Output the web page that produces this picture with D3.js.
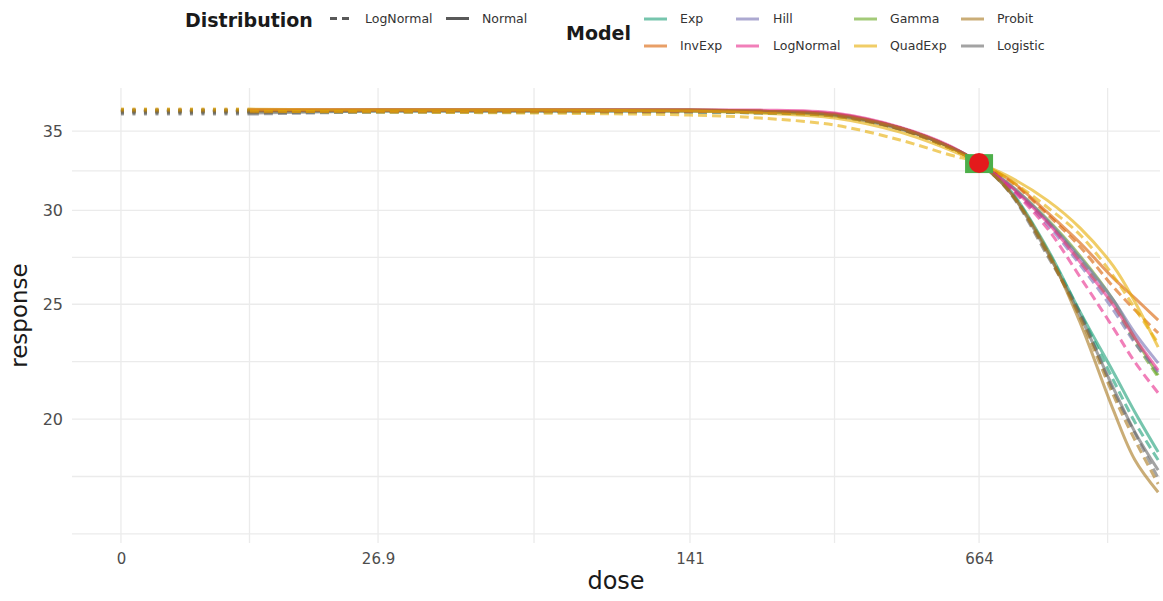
<!DOCTYPE html>
<html>
<head>
<meta charset="utf-8">
<script src="https://cdn.jsdelivr.net/npm/d3@7"></script>
<style>
  body { margin: 0; background: #ffffff; }
  text { font-family: "DejaVu Sans", sans-serif; }
</style>
</head>
<body>
<svg id="chart" width="1163" height="601"></svg>
<script>
// ---- data -------------------------------------------------------------
const doseTicks = [0, 26.9, 141, 664];
const doseTickLabels = ["0", "26.9", "141", "664"];
const responseTicks = [20, 25, 30, 35];

// doses at which every fitted curve is evaluated
const doses = [13.5, 26.9, 84.3, 141, 268, 403, 521, 612, 664, 720, 787, 847, 907, 946, 988];
const controlDose = 0;

const models = ["Exp", "InvExp", "Hill", "LogNormal", "Gamma", "QuadExp", "Probit", "Logistic"];
const distributions = ["LogNormal", "Normal"];
const modelColors = ["#1B9E77", "#D95F02", "#7570B3", "#E7298A", "#66A61E", "#E6AB02", "#A6761D", "#666666"];

const expNormal          = [36.39,36.39,36.39,36.39,36.32,36.11,35.21,33.93,32.9,31.21,27.88,24.62,21.91,20.27,18.76];
const expLogNormal       = [36.32,36.32,36.32,36.32,36.25,36.04,35.14,33.93,32.9,31.15,27.78,24.58,21.57,19.88,18.47];
const invExpNormal       = [36.46,36.46,36.46,36.46,36.39,36.18,35.21,33.93,32.9,31.82,29.90,28.16,26.30,25.30,24.24];
const invExpLogNormal    = [36.39,36.39,36.39,36.39,36.32,36.11,35.14,33.86,32.9,31.76,29.79,27.94,25.85,24.72,23.64];
const hillNormal         = [36.46,36.46,36.46,36.46,36.39,36.18,35.21,33.93,32.9,31.52,29.44,27.35,25.20,23.64,22.30];
const hillLogNormal      = [36.39,36.39,36.39,36.39,36.32,36.11,35.14,33.86,32.9,31.39,29.21,26.98,24.72,23.18,21.91];
const lognormalNormal    = [36.46,36.46,36.46,36.46,36.46,36.25,35.27,34.00,32.9,31.45,29.33,27.13,24.96,23.41,22.00];
const lognormalLogNormal = [36.39,36.39,36.39,36.39,36.32,36.11,35.21,33.93,32.9,31.33,28.99,26.35,23.87,22.34,21.04];
const gammaNormal        = [36.46,36.46,36.46,36.46,36.39,36.18,35.21,33.93,32.9,31.52,29.50,27.45,25.20,23.41,21.78];
const gammaLogNormal     = [36.39,36.39,36.39,36.39,36.32,36.11,35.14,33.86,32.9,31.45,29.39,27.24,24.96,23.23,21.70];
const quadExpNormal      = [36.53,36.46,36.46,36.39,36.25,35.90,34.93,33.73,32.9,32.01,30.61,28.99,26.92,25.11,23.00];
const quadExpLogNormal   = [36.39,36.32,36.25,36.11,35.90,35.41,34.40,33.41,32.9,31.82,30.20,28.60,26.41,24.80,23.18];
const probitNormal       = [36.39,36.46,36.46,36.46,36.39,36.11,35.21,33.93,32.9,31.09,27.78,24.11,20.35,18.47,17.35];
const probitLogNormal    = [36.32,36.39,36.39,36.39,36.32,36.04,35.14,33.86,32.9,31.09,27.62,24.34,20.95,19.20,17.63];
const logisticNormal     = [36.25,36.39,36.39,36.39,36.32,36.04,35.14,33.93,32.9,31.09,27.67,24.43,21.24,19.50,18.11];
const logisticLogNormal  = [36.18,36.32,36.32,36.32,36.25,36.04,35.14,33.86,32.9,31.03,27.51,24.53,21.12,19.46,17.83];

// observed response at the highest tested dose
const obsDose = 664;
const obsResponse = 32.9;
const obsLower = 32.26;
const obsUpper = 33.47;

const curveTable = {
  Exp:       { Normal: expNormal,       LogNormal: expLogNormal },
  InvExp:    { Normal: invExpNormal,    LogNormal: invExpLogNormal },
  Hill:      { Normal: hillNormal,      LogNormal: hillLogNormal },
  LogNormal: { Normal: lognormalNormal, LogNormal: lognormalLogNormal },
  Gamma:     { Normal: gammaNormal,     LogNormal: gammaLogNormal },
  QuadExp:   { Normal: quadExpNormal,   LogNormal: quadExpLogNormal },
  Probit:    { Normal: probitNormal,    LogNormal: probitLogNormal },
  Logistic:  { Normal: logisticNormal,  LogNormal: logisticLogNormal }
};

// ---- layout -----------------------------------------------------------
const W = 1163, H = 601;
const margin = { top: 88, right: 3, bottom: 58, left: 72 };
const iw = W - margin.left - margin.right;
const ih = H - margin.top - margin.bottom;

const svg = d3.select("#chart");
const g = svg.append("g").attr("transform", `translate(${margin.left},${margin.top})`);

// dose axis: piecewise-linear between the labelled doses
const tickFrac = [0.045, 0.2813, 0.5680, 0.8337];
const x = d3.scaleLinear().domain(doseTicks).range(tickFrac.map(f => f * iw));
const y = d3.scaleLog().domain([15.72, 38.06]).range([ih, 0]);

const color = d3.scaleOrdinal().domain(models).range(modelColors);
const dashOf = { Normal: null, LogNormal: "9,5" };

// ---- grid -------------------------------------------------------------
const gridColor = "#ebebeb";
const grid = g.append("g");

const xMajor = doseTicks.map(d => x(d));
const xStep = xMajor[1] - xMajor[0];
const xExt = xMajor.concat([xMajor[xMajor.length - 1] + xStep]);
const xMinor = d3.range(xExt.length - 1).map(i => (xExt[i] + xExt[i + 1]) / 2);
xMajor.concat(xMinor).filter(px => px >= 0 && px <= iw).forEach(px => {
  grid.append("line").attr("x1", px).attr("x2", px).attr("y1", 0).attr("y2", ih)
    .attr("stroke", gridColor).attr("stroke-width", 1.3);
});

const yStepRatio = responseTicks[1] / responseTicks[0];
const yExt = [responseTicks[0] / yStepRatio].concat(responseTicks);
const yMinor = d3.range(yExt.length - 1).map(i => Math.sqrt(yExt[i] * yExt[i + 1])).concat([yExt[0]]);
responseTicks.concat(yMinor).filter(v => y(v) >= 0 && y(v) <= ih).forEach(v => {
  grid.append("line").attr("x1", 0).attr("x2", iw).attr("y1", y(v)).attr("y2", y(v))
    .attr("stroke", gridColor).attr("stroke-width", 1.3);
});

// ---- axes -------------------------------------------------------------
const xAxis = g.append("g").attr("transform", `translate(0,${ih})`)
  .call(d3.axisBottom(x).tickValues(doseTicks).tickFormat((d, i) => doseTickLabels[i]).tickSize(0).tickPadding(10));
xAxis.select(".domain").remove();
xAxis.selectAll("text").attr("fill", "#4d4d4d").style("font-size", "15px").attr("font-family", "DejaVu Sans");

const yAxis = g.append("g")
  .call(d3.axisLeft(y).tickValues(responseTicks).tickFormat(d3.format("d")).tickSize(0).tickPadding(9));
yAxis.select(".domain").remove();
yAxis.selectAll("text").attr("fill", "#4d4d4d").style("font-size", "16px").attr("font-family", "DejaVu Sans");

svg.append("text").attr("x", margin.left + iw / 2).attr("y", 589)
  .attr("text-anchor", "middle").style("font-size", "24px").attr("fill", "#1a1a1a").text("dose");
svg.append("text").attr("transform", `translate(27,${margin.top + ih / 2}) rotate(-90)`)
  .attr("text-anchor", "middle").style("font-size", "23px").attr("fill", "#1a1a1a").text("response");

// ---- curves -----------------------------------------------------------
svg.append("defs").append("clipPath").attr("id", "panel")
  .append("rect").attr("width", iw).attr("height", ih);
const plot = g.append("g").attr("clip-path", "url(#panel)");

const line = d3.line().x(d => x(d[0])).y(d => y(d[1])).curve(d3.curveCatmullRom.alpha(0.5));

// dotted links from the control dose to the first fitted dose
models.forEach(m => {
  distributions.forEach(dist => {
    const vals = curveTable[m][dist];
    plot.append("path").datum([[controlDose, vals[0]], [doses[0], vals[0]]])
      .attr("d", line).attr("fill", "none")
      .attr("stroke", color(m)).attr("stroke-opacity", 0.6)
      .attr("stroke-width", 3).attr("stroke-dasharray", "3,8.5");
  });
});

// fitted curves, layered in alphabetical model order
const drawOrder = models.slice().sort((a, b) => a.toLowerCase().localeCompare(b.toLowerCase()));
drawOrder.forEach(m => {
  distributions.forEach(dist => {
    const vals = curveTable[m][dist];
    plot.append("path").datum(doses.map((d, i) => [d, vals[i]]))
      .attr("d", line).attr("fill", "none")
      .attr("stroke", color(m)).attr("stroke-opacity", 0.6)
      .attr("stroke-width", 3)
      .attr("stroke-dasharray", dashOf[dist]);
  });
});

// observed mean with its interval
plot.append("rect")
  .attr("x", x(obsDose) - 14).attr("width", 28)
  .attr("y", y(obsUpper)).attr("height", y(obsLower) - y(obsUpper))
  .attr("fill", "#4daf4a");
plot.append("circle").attr("cx", x(obsDose)).attr("cy", y(obsResponse)).attr("r", 10)
  .attr("fill", "#e41a1c");

// ---- legends ----------------------------------------------------------
const keyGray = "#595959";
const leg = svg.append("g");
leg.append("text").attr("x", 185).attr("y", 26.5).style("font-size", "19px")
  .attr("font-weight", "bold").attr("fill", "#1a1a1a").text("Distribution");

const distX = [{ key: 330, label: 365 }, { key: 446, label: 482 }];
distributions.forEach((dist, i) => {
  leg.append("line").attr("x1", distX[i].key).attr("x2", distX[i].key + 23)
    .attr("y1", 18.5).attr("y2", 18.5).attr("stroke", keyGray).attr("stroke-width", 3)
    .attr("stroke-dasharray", dashOf[dist] ? "7,5" : null);
  leg.append("text").attr("x", distX[i].label).attr("y", 22.8).style("font-size", "12.5px")
    .attr("fill", "#333333").text(dist);
});

leg.append("text").attr("x", 566).attr("y", 40).style("font-size", "19px")
  .attr("font-weight", "bold").attr("fill", "#1a1a1a").text("Model");

const colKey = [644, 736, 854, 961];
const colLabel = [680, 773, 890, 997];
const rowY = [19, 46];
models.forEach((m, i) => {
  const col = Math.floor(i / 2), row = i % 2;
  leg.append("line").attr("x1", colKey[col]).attr("x2", colKey[col] + 23)
    .attr("y1", rowY[row]).attr("y2", rowY[row])
    .attr("stroke", color(m)).attr("stroke-opacity", 0.6).attr("stroke-width", 3);
  leg.append("text").attr("x", colLabel[col]).attr("y", rowY[row] + 4.3).style("font-size", "12.5px")
    .attr("fill", "#333333").text(m);
});
</script>
</body>
</html>
